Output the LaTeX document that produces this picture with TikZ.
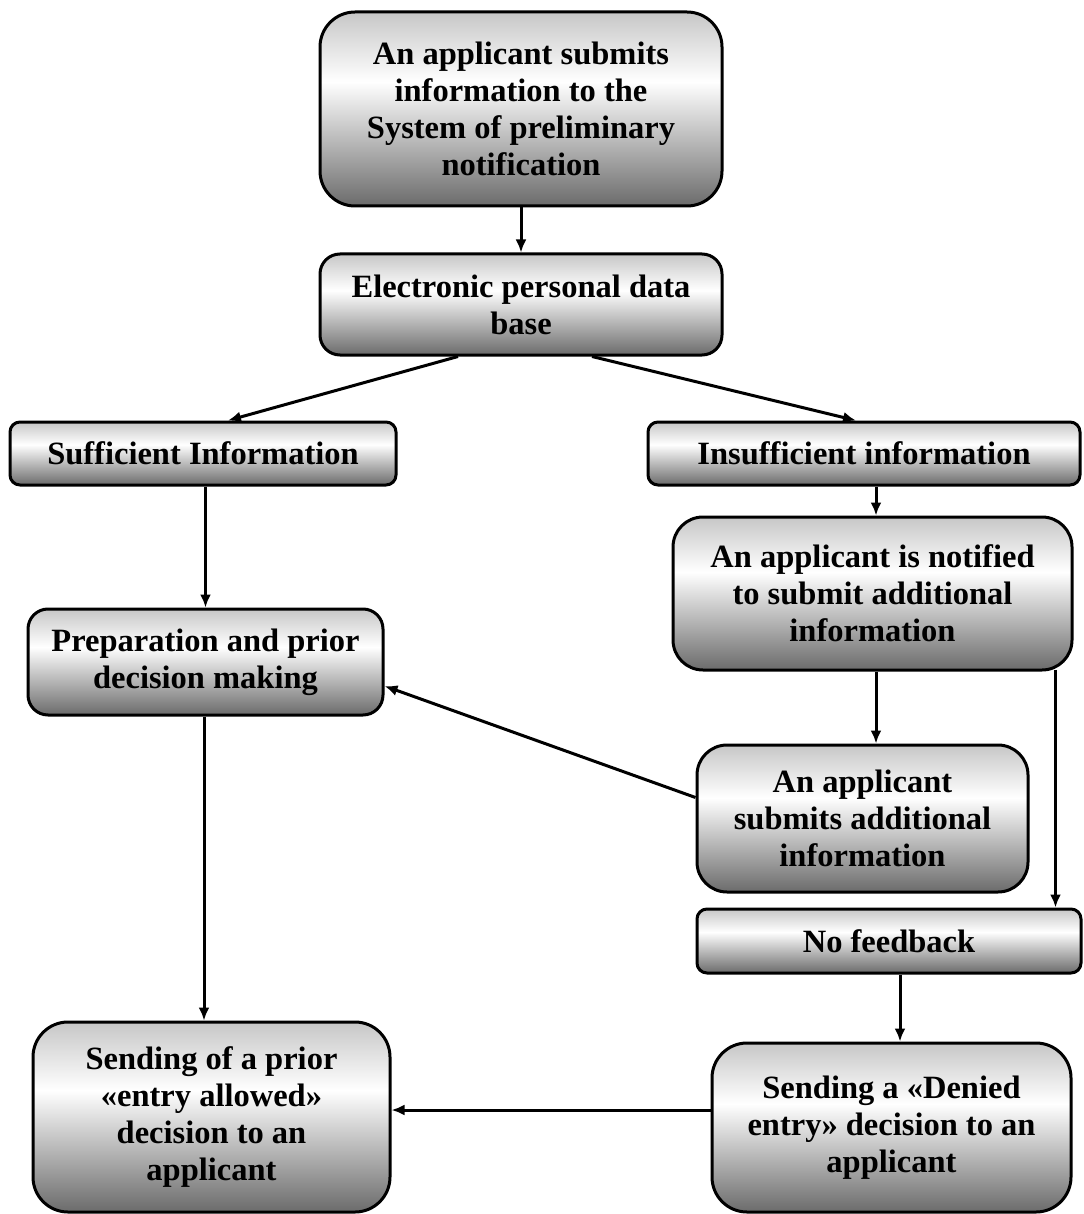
\documentclass[tikz,border=0pt]{standalone}
\usepackage{fontspec}
\setmainfont{Liberation Serif}
\usetikzlibrary{arrows.meta}
\pgfdeclareverticalshading{boxshade}{100bp}{color(0bp)=(black!58); color(25bp)=(black!58); color(57bp)=(white); color(75bp)=(black!22); color(100bp)=(black!22)}
\begin{document}
\begin{tikzpicture}[x=1pt,y=-1pt,
  box/.style={draw, line width=3pt, shading=boxshade, inner sep=0pt, align=center,
    font=\bfseries\fontsize{32.5}{37}\selectfont},
  arr/.style={-{Latex[length=13pt,width=11pt]}, line width=3pt}]
\useasboundingbox (0,0) rectangle (1083,1214);

\node[box, rounded corners=35pt, minimum width=402pt, minimum height=194pt] (top) at (521,109)
  {An applicant submits\\information to the\\System of preliminary\\notification};
\node[box, rounded corners=20pt, minimum width=402pt, minimum height=101pt] (edb) at (521,304.5)
  {Electronic personal data\\base};
\node[box, rounded corners=10pt, minimum width=386pt, minimum height=63pt] (suff) at (203,453.5)
  {Sufficient Information};
\node[box, rounded corners=10pt, minimum width=432pt, minimum height=63pt] (insuf) at (864,453.5)
  {Insufficient information};
\node[box, rounded corners=30pt, minimum width=399pt, minimum height=153pt] (notif) at (872.5,593.5)
  {An applicant is notified\\to submit additional\\information};
\node[box, rounded corners=20pt, minimum width=355pt, minimum height=106pt] (prep) at (205.5,662)
  {Preparation and prior\\decision making};
\node[box, rounded corners=30pt, minimum width=331pt, minimum height=147pt] (subm) at (862.5,818.5)
  {An applicant\\submits additional\\information};
\node[box, rounded corners=10pt, minimum width=384pt, minimum height=64pt] (nofb) at (889,941)
  {No feedback};
\node[box, rounded corners=35pt, minimum width=357pt, minimum height=190pt] (send) at (211.5,1117)
  {Sending of a prior\\«entry allowed»\\decision to an\\applicant};
\node[box, rounded corners=35pt, minimum width=359pt, minimum height=169pt] (deny) at (891.5,1127.5)
  {Sending a «Denied\\entry» decision to an\\applicant};

\draw[arr] (top) -- (edb);
\draw[arr] ([xshift=-63pt]edb.south) -- ([xshift=25pt]suff.north);
\draw[arr] ([xshift=71pt]edb.south) -- ([xshift=-8pt]insuf.north);
\draw[arr] (prep.north |- suff.south) -- (prep.north);
\draw[arr] ([xshift=3.5pt]notif.north |- insuf.south) -- ([xshift=3.5pt]notif.north);
\draw[arr] ([xshift=3.5pt]notif.south) -- ([xshift=3.5pt]notif.south |- subm.north);
\draw[arr] ([xshift=-18pt,yshift=2pt]notif.south east) -- ([xshift=-18pt]notif.south east |- nofb.north);
\draw[arr] ([yshift=21pt]subm.west) -- ([yshift=-24pt]prep.east);
\draw[arr] ([xshift=-1.5pt]prep.south) -- ([xshift=-1.5pt]prep.south |- send.north);
\draw[arr] ([xshift=11pt]nofb.south) -- ([xshift=11pt]nofb.south |- deny.north);
\draw[arr] ([yshift=17.5pt]deny.west) -- ([yshift=17.5pt]deny.west -| send.east);
\end{tikzpicture}
\end{document}
